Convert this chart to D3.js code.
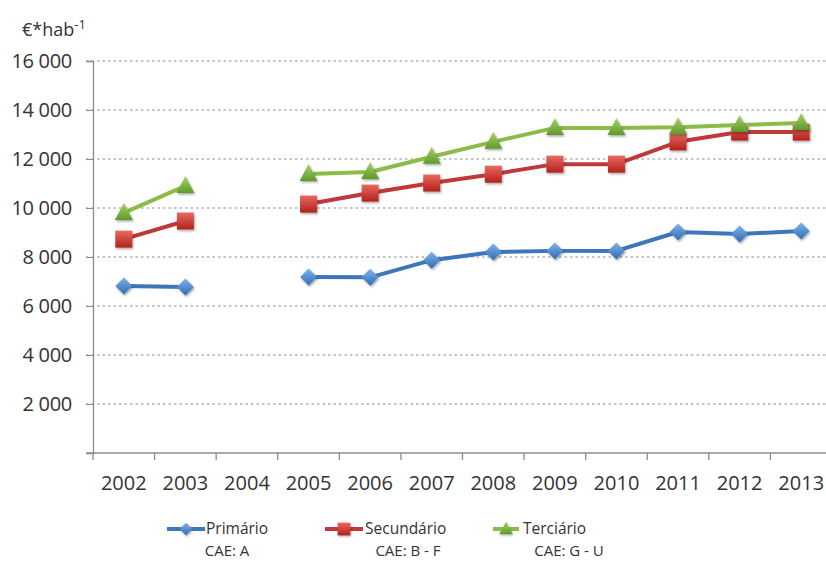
<!DOCTYPE html>
<html><head><meta charset="utf-8">
<script src="https://cdn.jsdelivr.net/npm/d3@7"></script>
<style>body{margin:0;background:#fff}svg{display:block}text{font-family:"Open Sans","Lato",sans-serif;fill:#333}</style>
</head><body><svg id="c" width="826" height="563"></svg>
<script>
const years = ["2002","2003","2004","2005","2006","2007","2008","2009","2010","2011","2012","2013"];
const primario   = [6820, 6780, null, 7180, 7170, 7870, 8200, 8250, 8250, 9020, 8940, 9060];
const secundario = [8730, 9470, null, 10160, 10610, 11020, 11380, 11790, 11790, 12700, 13100, 13100];
const terciario  = [9800, 10900, null, 11390, 11470, 12090, 12700, 13270, 13270, 13300, 13390, 13470];
const yTicks = [2000, 4000, 6000, 8000, 10000, 12000, 14000, 16000];
const seriesNames = ["Primário", "Secundário", "Terciário"];
const seriesCodes = ["CAE: A", "CAE: B - F", "CAE: G - U"];

const svg = d3.select("#c");
const x = d3.scaleBand().domain(years).range([93, 832]);
const y = d3.scaleLinear().domain([0, 16000]).range([453, 61]);
const fmt = v => d3.format(",")(v).replace(",", " ");

// defs
const defs = svg.append("defs");
const f = defs.append("filter").attr("id","sh").attr("x","-50%").attr("y","-50%").attr("width","200%").attr("height","200%");
f.append("feDropShadow").attr("dx",1).attr("dy",1.5).attr("stdDeviation",1.2).attr("flood-color","#000").attr("flood-opacity",0.35);
function grad(id, c1, c2){
  const g = defs.append("linearGradient").attr("id",id).attr("x1",0).attr("y1",0).attr("x2",0).attr("y2",1);
  g.append("stop").attr("offset","0%").attr("stop-color",c1);
  g.append("stop").attr("offset","100%").attr("stop-color",c2);
}
grad("gb","#7fb2ea","#2f6db4");
grad("gr","#e86a5f","#b3201c");
grad("gg","#a8d36a","#5f9a2a");

// gridlines
svg.append("g").selectAll("line").data(yTicks).join("line")
  .attr("x1",86).attr("x2",826).attr("y1",d=>y(d)).attr("y2",d=>y(d))
  .attr("stroke","#b3b3b3").attr("stroke-width",1.3).attr("stroke-dasharray","2.5,3");

// y axis
const ya = svg.append("g").attr("transform","translate(93,0)")
  .call(d3.axisLeft(y).tickValues(yTicks.concat([0])).tickSize(7).tickFormat(d=>d===0?"":fmt(d)));
ya.select(".domain").attr("stroke","#8c8c8c").attr("stroke-width",1.3);
ya.selectAll(".tick line").attr("stroke","#8c8c8c");
ya.selectAll(".tick text").attr("x",-21).attr("font-size",20).attr("letter-spacing","-0.3")
  .style("font-family",'"Open Sans",sans-serif').attr("fill","#333");

// x axis
const xa = svg.append("g").attr("transform","translate(0,453)")
  .call(d3.axisBottom(x).tickSize(0));
xa.select(".domain").attr("d","M86,0H832").attr("stroke","#8c8c8c").attr("stroke-width",1.3);
xa.selectAll(".tick text").attr("font-size",20).attr("y",37).attr("dy",0).attr("fill","#333");
svg.append("g").selectAll("line").data(years.concat(["end"])).join("line")
  .attr("x1",(d,i)=>x.range()[0]+i*x.bandwidth()).attr("x2",(d,i)=>x.range()[0]+i*x.bandwidth())
  .attr("y1",453).attr("y2",460).attr("stroke","#8c8c8c").attr("stroke-width",1.3);

// axis title
const t = svg.append("text").attr("x",22).attr("y",36).attr("font-size",18);
t.append("tspan").text("€*hab");
t.append("tspan").attr("dy",-7).attr("font-size",13).text("-1");

const cx = i => x(years[i]) + x.bandwidth()/2;
const line = d3.line().defined(d=>d!=null).x((d,i)=>cx(i)).y(d=>y(d));

const series = [
  {vals: primario, stroke:"#3d76bb", fill:"url(#gb)", shape:"diamond"},
  {vals: secundario, stroke:"#c0393a", fill:"url(#gr)", shape:"square"},
  {vals: terciario, stroke:"#8dbb4a", fill:"url(#gg)", shape:"triangle"}
];
function marker(g, shape, fill){
  if(shape==="diamond") g.append("path").attr("d","M0,-8.5L8.5,0L0,8.5L-8.5,0Z");
  else if(shape==="square") g.append("rect").attr("x",-8.5).attr("y",-8.5).attr("width",17).attr("height",17);
  else g.append("path").attr("d","M0,-10L9,7L-9,7Z");
  g.selectAll("path,rect").attr("fill",fill).attr("filter","url(#sh)");
}

series.forEach(s=>{
  const g = svg.append("g");
  g.append("path").datum(s.vals).attr("d",line).attr("fill","none")
    .attr("stroke",s.stroke).attr("stroke-width",4).attr("stroke-linejoin","round");
  s.vals.forEach((v,i)=>{
    if(v==null) return;
    marker(g.append("g").attr("transform",`translate(${cx(i)},${y(v)})`), s.shape, s.fill);
  });
});

// legend
const lx = [167, 325, 493];
const lw = [38, 38, 26];
const tx = [206, 365, 523];
const cxL = [227, 408, 569];
series.forEach((s,i)=>{
  const g = svg.append("g");
  g.append("line").attr("x1",lx[i]).attr("x2",lx[i]+lw[i]).attr("y1",529).attr("y2",529)
    .attr("stroke",s.stroke).attr("stroke-width",4);
  const m = g.append("g").attr("transform",`translate(${lx[i]+lw[i]/2},529) scale(0.75)`);
  marker(m, s.shape, s.fill);
  g.append("text").attr("x",tx[i]).attr("y",534).attr("font-size",15.5).text(seriesNames[i]);
  g.append("text").attr("x",cxL[i]).attr("y",556).attr("font-size",15).attr("text-anchor","middle").text(seriesCodes[i]);
});
</script></body></html>
